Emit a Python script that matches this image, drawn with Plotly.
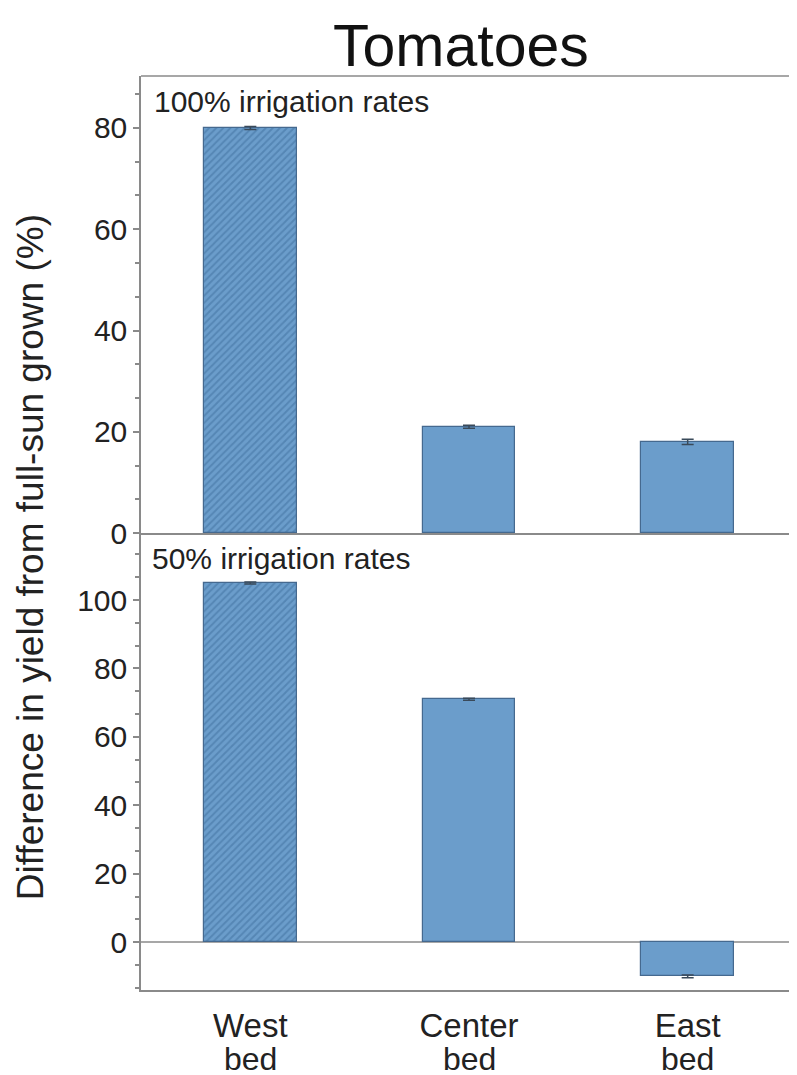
import plotly.graph_objects as go

categories = ["West", "Center", "East"]
sub_labels = ["bed", "bed", "bed"]
yield_100 = [80, 21, 18]
err_100 = [0.3, 0.3, 0.5]
yield_50 = [105, 71, -10]
err_50 = [0.3, 0.3, 0.4]
hatched = [True, False, False]
panel_labels = ["100% irrigation rates", "50% irrigation rates"]

FONT = "Liberation Sans, Arial, sans-serif"
BAR = "#6b9dcb"
EDGE = "#45698f"
HATCH = "#3f6f9e"
AXIS = "#8a8a8a"

x_idx = list(range(len(categories)))

fig = go.Figure()

def add_bars(vals, errs, xa, ya):
    fig.add_trace(go.Bar(
        x=x_idx, y=vals, width=0.425,
        marker=dict(
            color=BAR,
            line=dict(color=EDGE, width=1.2),
            pattern=dict(shape=["/" if h else "" for h in hatched],
                         fgcolor=HATCH, bgcolor=BAR, size=5, solidity=0.4),
        ),
        error_y=dict(type="data", array=errs, color="#3a4a5a", thickness=1.5, width=6),
        xaxis=xa, yaxis=ya, showlegend=False,
    ))

add_bars(yield_100, err_100, "x2", "y2")
add_bars(yield_50, err_50, "x", "y")

tickfont = dict(family=FONT, size=30, color="#222")
common_y = dict(
    showgrid=False, zeroline=False, showline=True, linecolor=AXIS, linewidth=1.5,
    ticks="outside", ticklen=6, tickcolor=AXIS, tickwidth=1.5,
    tickfont=tickfont, dtick=20, tick0=0,
    minor=dict(dtick=20/3, tick0=0, ticks="outside", ticklen=4, tickcolor=AXIS),
)

annotations = [
    dict(text="Difference in yield from full-sun grown (%)", textangle=-90,
         xref="paper", yref="paper", x=-0.169, y=0.4737, xanchor="center", yanchor="middle",
         showarrow=False, font=dict(family=FONT, size=37, color="#222")),
    dict(text=panel_labels[0], xref="paper", yref="paper", x=0.0168, y=0.9716,
         xanchor="left", yanchor="middle", showarrow=False,
         font=dict(family=FONT, size=30, color="#222")),
    dict(text=panel_labels[1], xref="paper", yref="paper", x=0.0137, y=0.4726,
         xanchor="left", yanchor="middle", showarrow=False,
         font=dict(family=FONT, size=30, color="#222")),
]
for xi, s in zip(x_idx, sub_labels):
    annotations.append(dict(text=s, xref="x", yref="paper", x=xi, y=-0.0755,
                            xanchor="center", yanchor="middle", showarrow=False,
                            font=dict(family=FONT, size=32, color="#222")))

# The page body adds an 8px offset; size the figure so the plot lands where the reference has it.
fig.update_layout(
    width=789, height=1067,
    margin=dict(l=133, r=0, t=68, b=85, autoexpand=False),
    paper_bgcolor="white", plot_bgcolor="white",
    bargap=0,
    title=dict(text="Tomatoes", font=dict(family=FONT, size=59, color="#111"),
               x=0.574, xref="container", xanchor="center",
               y=0.965, yref="container", yanchor="middle"),
    xaxis=dict(domain=[0, 1], range=[-0.5, 2.5], anchor="y",
               tickvals=x_idx, ticktext=categories, tickfont=dict(family=FONT, size=33, color="#222"),
               showline=True, linecolor=AXIS, linewidth=1.5, ticks="", showgrid=False,
               zeroline=False, ticklabelstandoff=6),
    yaxis=dict(domain=[0, 0.5], range=[-14, 119.6], anchor="x", **common_y),
    xaxis2=dict(domain=[0, 1], range=[-0.5, 2.5], anchor="y2", showticklabels=False,
                showline=True, linecolor=AXIS, linewidth=1.5, ticks="", showgrid=False,
                zeroline=False),
    yaxis2=dict(domain=[0.5, 1], range=[0, 90.27], anchor="x2", **common_y),
    shapes=[
        dict(type="line", xref="paper", yref="paper", x0=0, x1=1, y0=1, y1=1,
             line=dict(color=AXIS, width=1.5)),
        dict(type="line", xref="x", yref="y", x0=-0.5, x1=2.5, y0=0, y1=0,
             line=dict(color=AXIS, width=1.5), layer="below"),
    ],
    annotations=annotations,
)

fig.write_html("out.html")
